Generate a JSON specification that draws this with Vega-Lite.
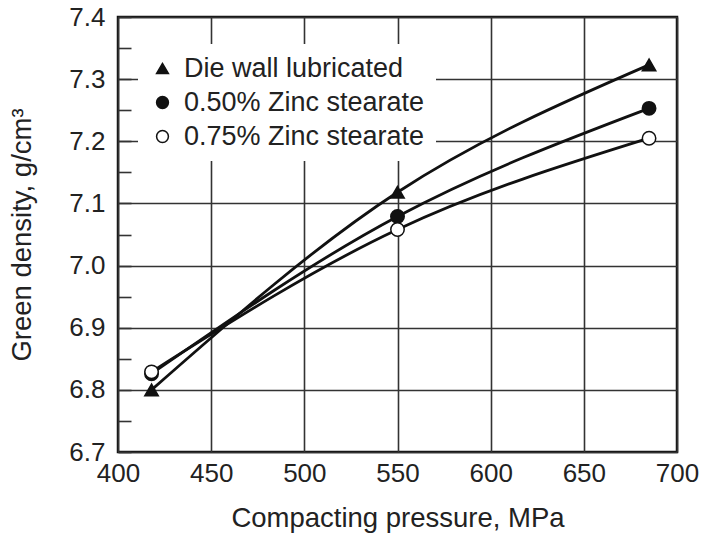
{
  "$schema": "https://vega.github.io/schema/vega-lite/v6.json",
  "width": 559,
  "height": 435,
  "autosize": {"type": "none"},
  "padding": {"left": 118, "top": 17, "right": 27, "bottom": 82},
  "background": "white",
  "config": {
    "font": "Liberation Sans",
    "view": {"stroke": "#111", "strokeWidth": 2.5},
    "axis": {
      "labelFont": "Liberation Sans",
      "titleFont": "Liberation Sans",
      "labelFontSize": 26,
      "titleFontSize": 27.5,
      "titleFontWeight": "normal",
      "labelColor": "#222",
      "titleColor": "#222",
      "gridColor": "#333",
      "gridWidth": 1.6,
      "domain": false,
      "labelFlush": false
    },
    "legend": {
      "labelFont": "Liberation Sans"
    }
  },
  "data": {
    "values": [
      {"series": "Die wall lubricated", "pressure": 418, "density": 6.800},
      {"series": "Die wall lubricated", "pressure": 550, "density": 7.118},
      {"series": "Die wall lubricated", "pressure": 685, "density": 7.323},
      {"series": "0.50% Zinc stearate", "pressure": 418, "density": 6.826},
      {"series": "0.50% Zinc stearate", "pressure": 550, "density": 7.079},
      {"series": "0.50% Zinc stearate", "pressure": 685, "density": 7.253},
      {"series": "0.75% Zinc stearate", "pressure": 418, "density": 6.829},
      {"series": "0.75% Zinc stearate", "pressure": 550, "density": 7.058},
      {"series": "0.75% Zinc stearate", "pressure": 685, "density": 7.205}
    ]
  },
  "encoding": {
    "x": {
      "field": "pressure",
      "type": "quantitative",
      "scale": {"domain": [400, 700], "nice": false, "zero": false},
      "axis": {
        "title": "Compacting pressure, MPa",
        "values": [400, 450, 500, 550, 600, 650, 700],
        "ticks": false,
        "labelPadding": 8,
        "titlePadding": 18,
        "grid": true
      }
    },
    "y": {
      "field": "density",
      "type": "quantitative",
      "scale": {"domain": [6.7, 7.4], "nice": false, "zero": false},
      "axis": {
        "title": "Green density, g/cm³",
        "values": [6.7, 6.75, 6.8, 6.85, 6.9, 6.95, 7.0, 7.05, 7.1, 7.15, 7.2, 7.25, 7.3, 7.35, 7.4],
        "labelExpr": "round(datum.value*20) % 2 == 0 ? format(datum.value, '.1f') : ''",
        "grid": true,
        "gridOpacity": {"condition": {"test": "round(datum.value*20) % 2 == 0", "value": 1}, "value": 0},
        "ticks": true,
        "tickSize": -13,
        "tickColor": "#333",
        "tickWidth": 1.6,
        "labelPadding": 26,
        "titlePadding": 32
      }
    }
  },
  "layer": [
    {
      "mark": {"type": "line", "interpolate": "natural", "color": "#111", "strokeWidth": 2.8},
      "encoding": {"detail": {"field": "series"}}
    },
    {
      "mark": {"type": "point", "filled": true, "size": 180, "stroke": "#111", "strokeWidth": 1.5, "opacity": 1},
      "encoding": {
        "shape": {
          "field": "series",
          "type": "nominal",
          "scale": {
            "domain": ["Die wall lubricated", "0.50% Zinc stearate", "0.75% Zinc stearate"],
            "range": ["triangle-up", "circle", "circle"]
          },
          "legend": {
            "title": null,
            "orient": "none",
            "legendX": 20,
            "legendY": 27,
            "padding": 11,
            "fillColor": "white",
            "labelFontSize": 27,
            "labelColor": "#222",
            "labelLimit": 400,
            "symbolSize": 140,
            "rowPadding": 6,
            "labelOffset": 8,
            "encode": {"symbols": {"update": {"stroke": {"value": "#111"}, "strokeWidth": {"value": 1.5}}}}
          }
        },
        "fill": {
          "field": "series",
          "type": "nominal",
          "scale": {
            "domain": ["Die wall lubricated", "0.50% Zinc stearate", "0.75% Zinc stearate"],
            "range": ["#111", "#111", "white"]
          },
          "legend": {
            "title": null,
            "orient": "none",
            "legendX": 20,
            "legendY": 27,
            "padding": 11,
            "fillColor": "white",
            "labelFontSize": 27,
            "labelColor": "#222",
            "labelLimit": 400,
            "symbolSize": 140,
            "rowPadding": 6,
            "labelOffset": 8,
            "encode": {"symbols": {"update": {"stroke": {"value": "#111"}, "strokeWidth": {"value": 1.5}}}}
          }
        }
      }
    }
  ]
}
